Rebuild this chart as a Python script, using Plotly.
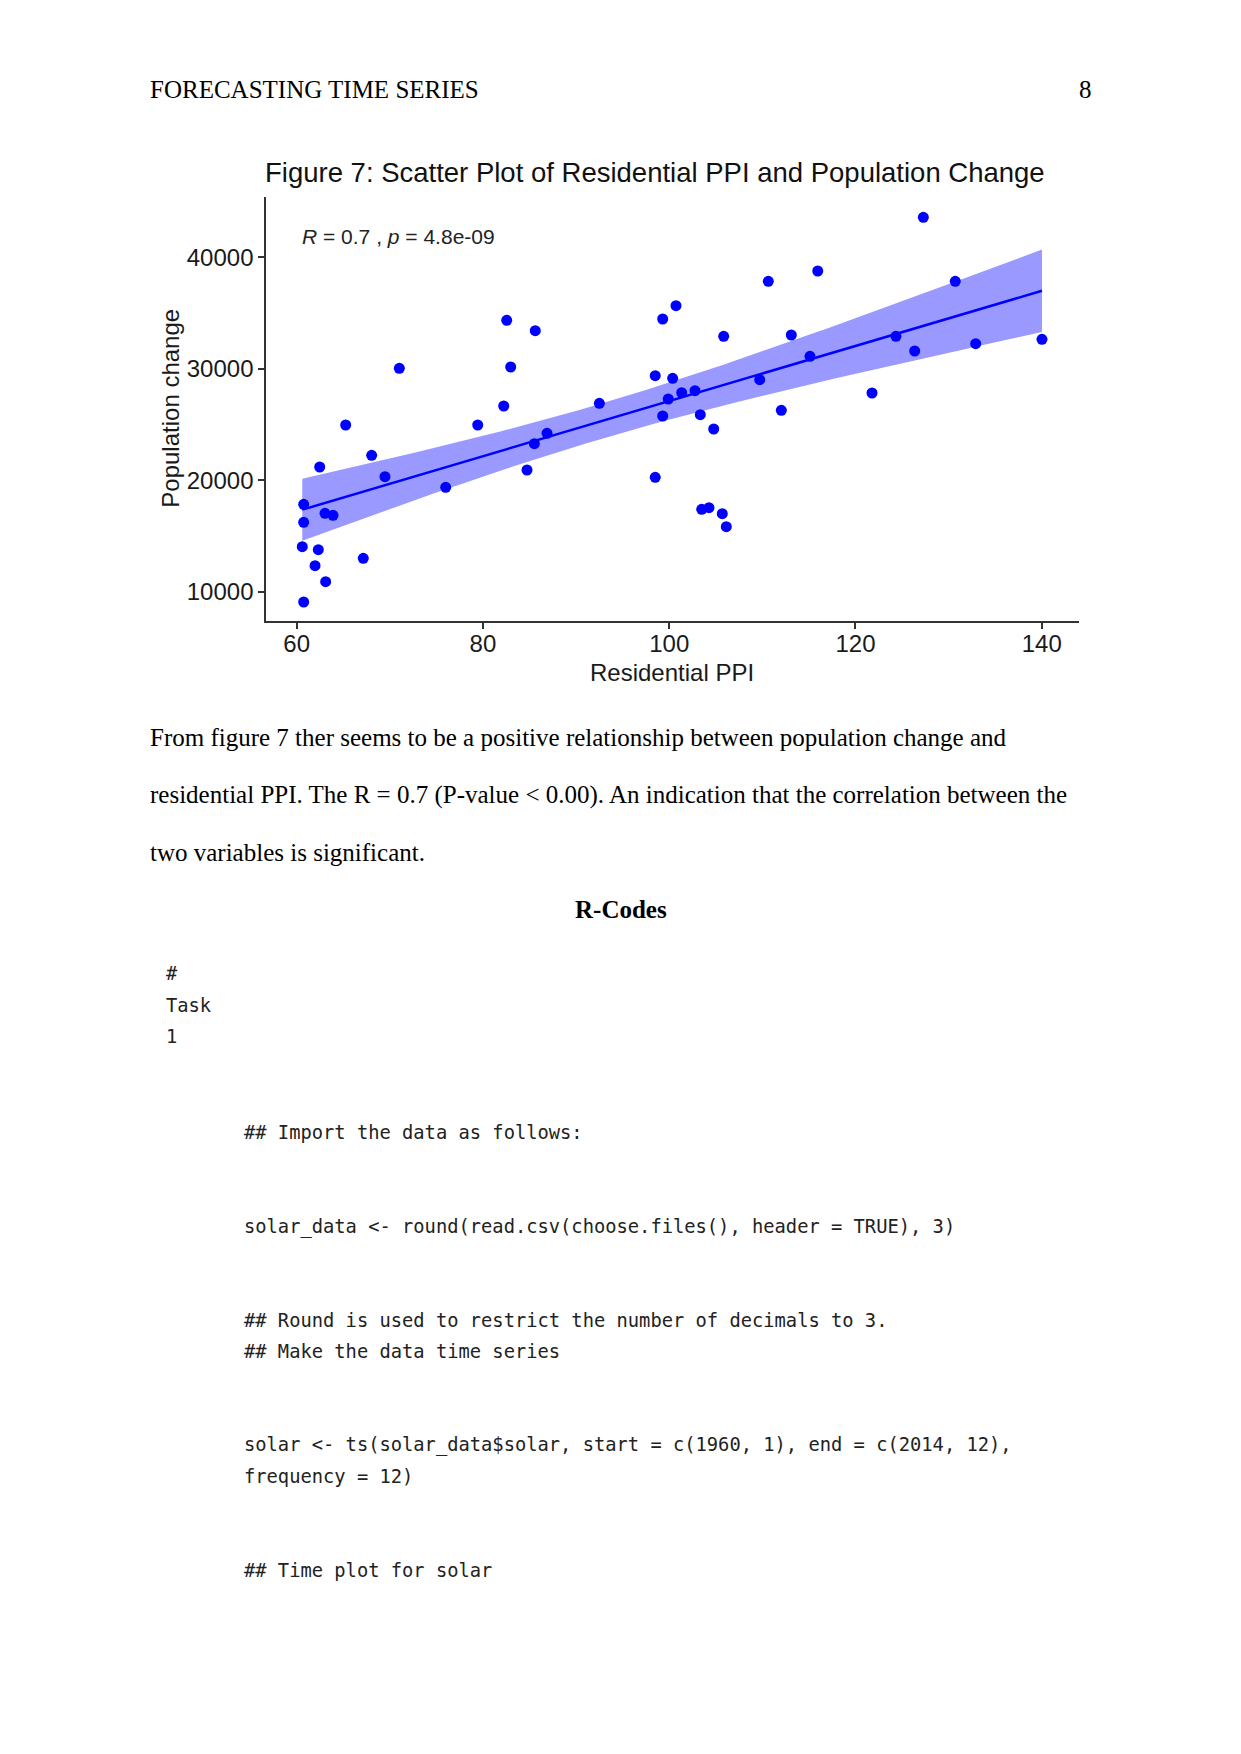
import numpy as np
import plotly.graph_objects as go

W, H = 1241, 1754

# ---- data ----
residential_ppi = [60.75, 60.75, 60.6, 60.75, 62.47, 62.32, 61.97, 63.11, 63.04, 63.9,
                   65.26, 68.05, 69.48, 67.15, 76.0, 79.44, 82.23, 84.73, 85.52, 86.88,
                   92.5, 71.02, 82.55, 82.98, 85.62, 127.29, 115.95, 110.64, 130.72, 99.3,
                   100.73, 105.85, 113.11, 124.35, 126.36, 132.91, 140.03, 115.12, 109.72, 98.5,
                   100.37, 99.9, 101.34, 102.77, 99.3, 103.34, 104.78, 112.04, 121.78, 98.5,
                   103.49, 104.27, 105.7, 106.13]
population_change = [17841, 16226, 14037, 9076, 21187, 13768, 12333, 10897, 17033, 16854,
                     24955, 22236, 20316, 12996, 19366, 24955, 26659, 20918, 23277, 24210,
                     26900, 30041, 34348, 30158, 33414, 43588, 38771, 37846, 37846, 34464,
                     35657, 32912, 33029, 32912, 31594, 32249, 32643, 31118, 29020, 29379,
                     29145, 27288, 27853, 28032, 25762, 25879, 24596, 26274, 27825, 20263,
                     17392, 17536, 16998, 15831]
x_ticks = [60, 80, 100, 120, 140]
y_ticks = [10000, 20000, 30000, 40000]

title_text = "Figure 7: Scatter Plot of Residential PPI and Population Change"
stat_text = "<i>R</i> = 0.7 , <i>p</i> = 4.8e-09"
x_title = "Residential PPI"
y_title = "Population change"

header_left = "FORECASTING TIME SERIES"
header_right = "8"
body_lines = [
    "From figure 7 ther seems to be a positive relationship between population change and",
    "residential PPI. The R = 0.7 (P-value < 0.00). An indication that the correlation between the",
    "two variables is significant.",
]
section_title = "R-Codes"
code_lines = [
    ("#", 166, 980),
    ("Task", 166, 1011.7),
    ("1", 166, 1043.3),
    ("## Import the data as follows:", 244, 1139),
    ("solar_data <- round(read.csv(choose.files(), header = TRUE), 3)", 244, 1233.3),
    ("## Round is used to restrict the number of decimals to 3.", 244, 1326.5),
    ("## Make the data time series", 244, 1358),
    ("solar <- ts(solar_data$solar, start = c(1960, 1), end = c(2014, 12),", 244, 1451.5),
    ("frequency = 12)", 244, 1483),
    ("## Time plot for solar", 244, 1577),
]

# ---- linear fit with 95% confidence band ----
x = np.array(residential_ppi)
y = np.array(population_change, dtype=float)
n = len(x)
b, a = np.polyfit(x, y, 1)
resid = y - (a + b * x)
s = np.sqrt(np.sum(resid ** 2) / (n - 2))
xbar = x.mean()
sxx = np.sum((x - xbar) ** 2)
t_crit = 2.0067  # 95% two-sided, df = 52
xg = np.linspace(x.min(), x.max(), 120)
fit = a + b * xg
se = s * np.sqrt(1.0 / n + (xg - xbar) ** 2 / sxx)
upper = fit + t_crit * se
lower = fit - t_crit * se

# ---- page geometry (pixels) ----
plot_l, plot_r, plot_t, plot_b = 266.3, 1079.0, 196.7, 620.7
DX = -2.5  # annotation padding compensation


def px(v):
    return v / W


def py(v):
    return 1 - v / H


fig = go.Figure()
fig.add_trace(go.Scatter(x=xg, y=upper, mode="lines", line=dict(width=0, color="rgba(0,0,0,0)"),
                         hoverinfo="skip", showlegend=False))
fig.add_trace(go.Scatter(x=xg, y=lower, mode="lines", line=dict(width=0, color="rgba(0,0,0,0)"),
                         fill="tonexty", fillcolor="rgba(0,0,255,0.4)", hoverinfo="skip",
                         showlegend=False))
fig.add_trace(go.Scatter(x=xg, y=fit, mode="lines", line=dict(color="#0000FF", width=2.5),
                         showlegend=False))
fig.add_trace(go.Scatter(x=residential_ppi, y=population_change, mode="markers",
                         marker=dict(color="#0000FF", size=11, line=dict(width=0)),
                         showlegend=False))

axis_font = dict(family="Liberation Sans, Arial, sans-serif", size=24, color="#1a1a1a")
fig.update_xaxes(domain=[px(plot_l), px(plot_r)], range=[56.736, 144.005],
                 tickvals=x_ticks, ticktext=[str(v) for v in x_ticks],
                 showline=True, linecolor="#333333", linewidth=2, ticks="outside",
                 ticklen=6, tickwidth=2, tickcolor="#333333", showgrid=False,
                 zeroline=False, tickfont=axis_font, ticklabelstandoff=-6)
fig.update_yaxes(domain=[py(plot_b), py(plot_t)], range=[7398, 45436],
                 tickvals=y_ticks, ticktext=[str(v) for v in y_ticks],
                 showline=True, linecolor="#333333", linewidth=2, ticks="outside",
                 ticklen=6, tickwidth=2, tickcolor="#333333", showgrid=False,
                 zeroline=False, tickfont=axis_font)

ann = []
serif = "Liberation Serif, Times New Roman, serif"
mono = "DejaVu Sans Mono, monospace"
sans = "Liberation Sans, Arial, sans-serif"


def add_text(text, xpix, ypix, font, xanchor="left", angle=0):
    if xanchor == "left":
        xpix = xpix + DX
    elif xanchor == "right":
        xpix = xpix - DX
    ann.append(dict(text=text, x=px(xpix), y=py(ypix), xref="paper", yref="paper",
                    xanchor=xanchor, yanchor="middle", showarrow=False, font=font,
                    textangle=angle))


add_text(title_text, 265.5, 172.0, dict(family=sans, size=27.5, color="#111111"))
add_text(stat_text, 302.3, 237.0, dict(family=sans, size=21, color="#222222"))
add_text(x_title, 671.5, 672.4, dict(family=sans, size=24, color="#1a1a1a"), xanchor="center")
add_text(y_title, 171.0, 408.7, dict(family=sans, size=24, color="#1a1a1a"), xanchor="center", angle=-90)

add_text(header_left, 150, 89.9, dict(family=serif, size=25, color="#000000"))
add_text(header_right, 1091, 89.9, dict(family=serif, size=25, color="#000000"), xanchor="right")
for i, line in enumerate(body_lines):
    add_text(line, 150, 737.3 + i * 57.6, dict(family=serif, size=25, color="#000000"))
add_text("<b>" + section_title + "</b>", 620.5, 909.6, dict(family=serif, size=25, color="#000000"),
         xanchor="center")
for text, xpix, base in code_lines:
    add_text(text, xpix, base - 6.5, dict(family=mono, size=18.75, color="#222222"))

fig.update_layout(width=W, height=H, margin=dict(l=0, r=0, t=0, b=0),
                  paper_bgcolor="white", plot_bgcolor="white", annotations=ann,
                  showlegend=False)

fig.write_html("out.html")
